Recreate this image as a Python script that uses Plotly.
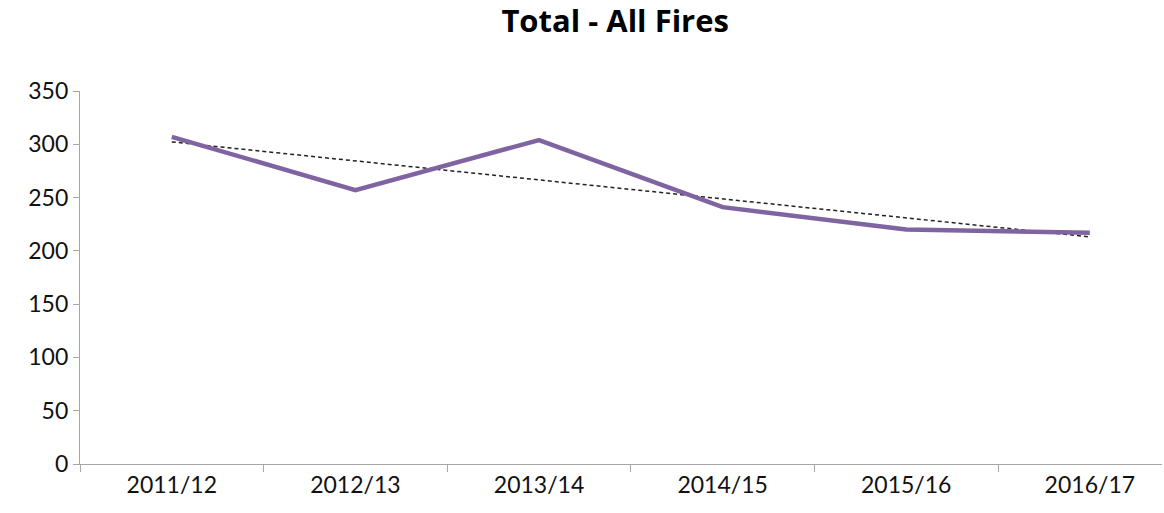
import plotly.graph_objects as go

categories = ["2011/12", "2012/13", "2013/14", "2014/15", "2015/16", "2016/17"]
fires = [307, 257, 304, 241, 220, 217]
y_ticks = [0, 50, 100, 150, 200, 250, 300, 350]

# linear trendline (least squares), like Excel's
n = len(fires)
xs = list(range(n))
mx = sum(xs) / n
my = sum(fires) / n
slope = sum((x - mx) * (y - my) for x, y in zip(xs, fires)) / sum((x - mx) ** 2 for x in xs)
intercept = my - slope * mx
trend = [intercept + slope * x for x in xs]

font = "Lato, 'Open Sans', sans-serif"
title_font = "'Open Sans', Lato, sans-serif"

fig = go.Figure()
fig.add_trace(go.Scatter(
    x=categories, y=trend, mode="lines",
    line=dict(color="#222222", width=1.5, dash="4px,3px"),
    hoverinfo="skip", showlegend=False,
))
fig.add_trace(go.Scatter(
    x=categories, y=fires, mode="lines",
    line=dict(color="#8064A2", width=4.5),
    showlegend=False, name="Total - All Fires",
))

fig.update_layout(
    width=1164, height=513,
    paper_bgcolor="white", plot_bgcolor="white",
    margin=dict(l=80, r=2, t=91, b=49),
    title=dict(text="<b>Total - All Fires</b>", x=0.5285, xanchor="center",
               y=0.958, yanchor="middle",
               font=dict(family=title_font, size=31, color="#000000")),
    font=dict(family=font, size=23, color="#111111"),
    xaxis=dict(
        type="category", range=[-0.5, 5.393],
        showline=True, linecolor="#A6A6A6", linewidth=1.2,
        ticks="outside", tickson="boundaries", ticklen=7, tickcolor="#A6A6A6",
        showgrid=False, zeroline=False,
        tickfont=dict(family=font, size=23, color="#111111"),
    ),
    yaxis=dict(
        range=[0, 350], tickvals=y_ticks,
        showline=True, linecolor="#A6A6A6", linewidth=1.2,
        ticks="outside", ticklen=6, tickcolor="#A6A6A6",
        showgrid=False, zeroline=False,
        tickfont=dict(family=font, size=23, color="#111111"),
    ),
)

fig.write_html(
    "out.html",
    config={"displayModeBar": False},
    post_script="document.body.style.margin='0';document.body.style.overflow='hidden';",
)
